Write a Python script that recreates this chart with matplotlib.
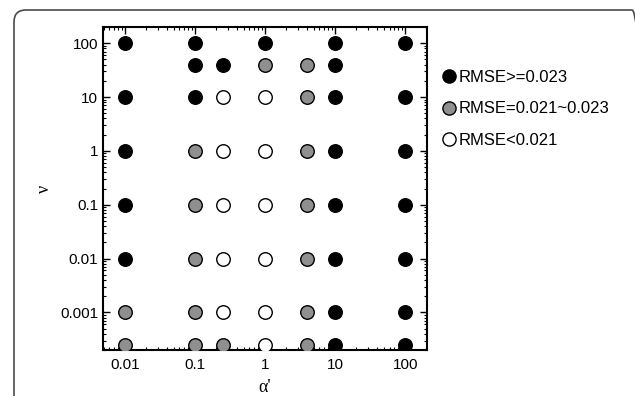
import matplotlib
matplotlib.use("Agg")
import matplotlib.pyplot as plt
from matplotlib.patches import FancyBboxPatch
from matplotlib.lines import Line2D
from matplotlib.ticker import LogLocator, FixedLocator, FixedFormatter, NullFormatter

plt.rcParams['font.family'] = ['Liberation Sans', 'DejaVu Sans']

alpha_vals = [0.01, 0.1, 0.25, 1, 4, 10, 100]
nu_vals = [100, 40, 10, 1, 0.1, 0.01, 0.001, 0.00025]
# classes per row (nu) across alpha columns: B = >=0.023, G = 0.021~0.023, W = <0.021, '' = none
grid = [
    ['B', 'B', '', 'B', '', 'B', 'B'],
    ['', 'B', 'B', 'G', 'G', 'B', ''],
    ['B', 'B', 'W', 'W', 'G', 'B', 'B'],
    ['B', 'G', 'W', 'W', 'G', 'B', 'B'],
    ['B', 'G', 'W', 'W', 'G', 'B', 'B'],
    ['B', 'G', 'W', 'W', 'G', 'B', 'B'],
    ['G', 'G', 'W', 'W', 'G', 'B', 'B'],
    ['G', 'G', 'G', 'W', 'G', 'B', 'B'],
]
classes = ['B', 'G', 'W']
class_labels = ['RMSE>=0.023', 'RMSE=0.021~0.023', 'RMSE<0.021']
class_colors = ['#000000', '#8f8f8f', '#ffffff']
x_ticks = [0.01, 0.1, 1, 10, 100]
x_ticklabels = ['0.01', '0.1', '1', '10', '100']
y_ticks = [0.001, 0.01, 0.1, 1, 10, 100]
y_ticklabels = ['0.001', '0.01', '0.1', '1', '10', '100']

fig = plt.figure(figsize=(6.35, 3.96), dpi=100)

# rounded border frame (inches)
border = FancyBboxPatch((0.14, -0.3), 6.30, 3.86 + 0.3,
                        boxstyle="round,pad=0,rounding_size=0.12",
                        transform=fig.dpi_scale_trans, facecolor='none',
                        edgecolor='#4a4a4a', linewidth=1.2, clip_on=False)
fig.patches.append(border)

ax = fig.add_axes([103/635, 1 - 350/396, 324/635, 323/396])
ax.set_xscale('log')
ax.set_yscale('log')

for c, col in zip(classes, class_colors):
    xs, ys = [], []
    for i, nu in enumerate(nu_vals):
        for j, a in enumerate(alpha_vals):
            if grid[i][j] == c:
                xs.append(a)
                ys.append(nu)
    ax.scatter(xs, ys, s=95, facecolor=col, edgecolor='black', linewidth=1.0, zorder=3)

ax.set_xlim(0.0049, 205)
ax.set_ylim(0.0002, 200)

ax.xaxis.set_major_locator(FixedLocator(x_ticks))
ax.xaxis.set_major_formatter(FixedFormatter(x_ticklabels))
ax.yaxis.set_major_locator(FixedLocator(y_ticks))
ax.yaxis.set_major_formatter(FixedFormatter(y_ticklabels))
ax.xaxis.set_minor_locator(LogLocator(base=10, subs=range(2, 10), numticks=20))
ax.yaxis.set_minor_locator(LogLocator(base=10, subs=range(2, 10), numticks=20))
ax.xaxis.set_minor_formatter(NullFormatter())
ax.yaxis.set_minor_formatter(NullFormatter())
ax.tick_params(which='both', direction='in', top=True, right=True, labelsize=11)
ax.tick_params(which='major', length=5, width=1)
ax.tick_params(axis='x', which='major', pad=6)
ax.tick_params(which='minor', length=2.5, width=0.8)
for s in ax.spines.values():
    s.set_linewidth(1.5)

ax.set_xlabel("α'", family=['Liberation Serif', 'DejaVu Serif'], fontsize=13, labelpad=5)
ax.set_ylabel("ν", family=['Liberation Serif', 'DejaVu Serif'], fontsize=13, labelpad=5)

handles = [Line2D([], [], marker='o', linestyle='none', markersize=9.5,
                  markerfacecolor=col, markeredgecolor='black', markeredgewidth=1.0)
           for col in class_colors]
fig.legend(handles, class_labels, loc='upper left', bbox_to_anchor=(432/635, 1 - 63/396),
           frameon=False, fontsize=12, handletextpad=0.0, handlelength=1.2,
           labelspacing=1.0, borderaxespad=0)

fig.savefig('out.png', dpi=100)
